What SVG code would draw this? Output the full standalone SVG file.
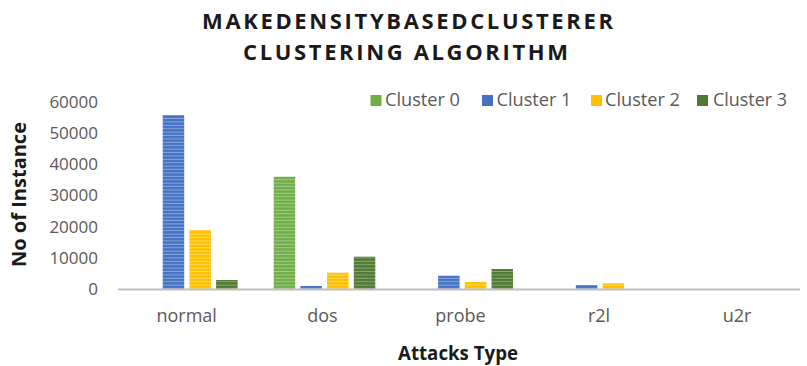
<svg xmlns="http://www.w3.org/2000/svg" width="807" height="366" viewBox="0 0 807 366">
<style>
.title{font-family:"Open Sans","Liberation Sans",sans-serif;font-weight:bold;font-size:22px;fill:#1a1a1a;text-anchor:middle}
.axt{font-family:"Open Sans","Liberation Sans",sans-serif;font-weight:bold;font-size:19px;fill:#1a1a1a;text-anchor:middle}
.tick{font-family:"Open Sans","Liberation Sans",sans-serif;font-size:17px;fill:#595959;text-anchor:end}
.cat{font-family:"Open Sans","Liberation Sans",sans-serif;font-size:18px;fill:#595959;text-anchor:middle}
.leg{font-family:"Open Sans","Liberation Sans",sans-serif;font-size:18px;fill:#595959}
.c0{fill:url(#p0)}.c1{fill:url(#p1)}.c2{fill:url(#p2)}.c3{fill:url(#p3)}
.s0{fill:#70AD47}.s1{fill:#4472C4}.s2{fill:#FFC000}.s3{fill:#4E7A33}
</style>
<defs>
<pattern id="p0" width="4" height="3.4" patternUnits="userSpaceOnUse"><rect width="4" height="3.4" fill="#70AD47"/><rect y="2.4" width="4" height="1" fill="#A6CC8C"/></pattern>
<pattern id="p1" width="4" height="3.4" patternUnits="userSpaceOnUse"><rect width="4" height="3.4" fill="#4472C4"/><rect y="2.4" width="4" height="1" fill="#8CA6DA"/></pattern>
<pattern id="p2" width="4" height="3.4" patternUnits="userSpaceOnUse"><rect width="4" height="3.4" fill="#FFC000"/><rect y="2.4" width="4" height="1" fill="#FFD966"/></pattern>
<pattern id="p3" width="4" height="3.4" patternUnits="userSpaceOnUse"><rect width="4" height="3.4" fill="#4E7A33"/><rect y="2.4" width="4" height="1" fill="#8AA878"/></pattern>
</defs>
<rect width="807" height="366" fill="#ffffff"/>
<g id="title">
<text class="title" x="407.5" y="28.5" textLength="411" lengthAdjust="spacing">MAKEDENSITYBASEDCLUSTERER</text>
<text class="title" x="405.5" y="59.5" textLength="325" lengthAdjust="spacing">CLUSTERING ALGORITHM</text>
</g>
<g id="legend">
<rect class="s0" x="370.5" y="95" width="11" height="11"/>
<text class="leg" x="385" y="106" textLength="75" lengthAdjust="spacingAndGlyphs">Cluster 0</text>
<rect class="s1" x="482" y="95" width="11" height="11"/>
<text class="leg" x="496.5" y="106" textLength="75" lengthAdjust="spacingAndGlyphs">Cluster 1</text>
<rect class="s2" x="591" y="95" width="11" height="11"/>
<text class="leg" x="605" y="106" textLength="75" lengthAdjust="spacingAndGlyphs">Cluster 2</text>
<rect class="s3" x="697" y="95" width="11" height="11"/>
<text class="leg" x="713" y="106" textLength="74" lengthAdjust="spacingAndGlyphs">Cluster 3</text>
</g>
<g id="y-axis">
<text class="tick" x="98" y="108">60000</text>
<text class="tick" x="98" y="139">50000</text>
<text class="tick" x="98" y="170">40000</text>
<text class="tick" x="98" y="201">30000</text>
<text class="tick" x="98" y="233">20000</text>
<text class="tick" x="98" y="264">10000</text>
<text class="tick" x="98" y="295">0</text>
<text class="axt" transform="translate(26,194.5) rotate(-90)" textLength="145" lengthAdjust="spacingAndGlyphs">No of Instance</text>
</g>
<g id="bars">
<rect class="c1" x="162.7" y="115" width="21.5" height="174"/>
<rect class="c2" x="189.4" y="230" width="21.5" height="59"/>
<rect class="c3" x="216.1" y="280" width="21.5" height="9"/>
<rect class="c0" x="273.7" y="176.7" width="21.5" height="112.3"/>
<rect class="c1" x="300.4" y="286" width="21.5" height="3"/>
<rect class="c2" x="327.1" y="272.7" width="21.5" height="16.3"/>
<rect class="c3" x="353.8" y="256.7" width="21.5" height="32.3"/>
<rect class="c1" x="438.1" y="275.7" width="21.5" height="13.3"/>
<rect class="c2" x="464.8" y="282" width="21.5" height="7"/>
<rect class="c3" x="491.5" y="269" width="21.5" height="20"/>
<rect class="c1" x="575.8" y="285" width="21.5" height="4"/>
<rect class="c2" x="602.5" y="283.3" width="21.5" height="5.7"/>
</g>
<g id="x-axis">
<line x1="118" y1="289.5" x2="800" y2="289.5" stroke="#BFBFBF" stroke-width="2"/>
<text class="cat" x="186.7" y="322">normal</text>
<text class="cat" x="322.5" y="322">dos</text>
<text class="cat" x="460.5" y="322">probe</text>
<text class="cat" x="599" y="322">r2l</text>
<text class="cat" x="737" y="322">u2r</text>
<text class="axt" x="458" y="360" textLength="120" lengthAdjust="spacingAndGlyphs">Attacks Type</text>
</g>
</svg>
